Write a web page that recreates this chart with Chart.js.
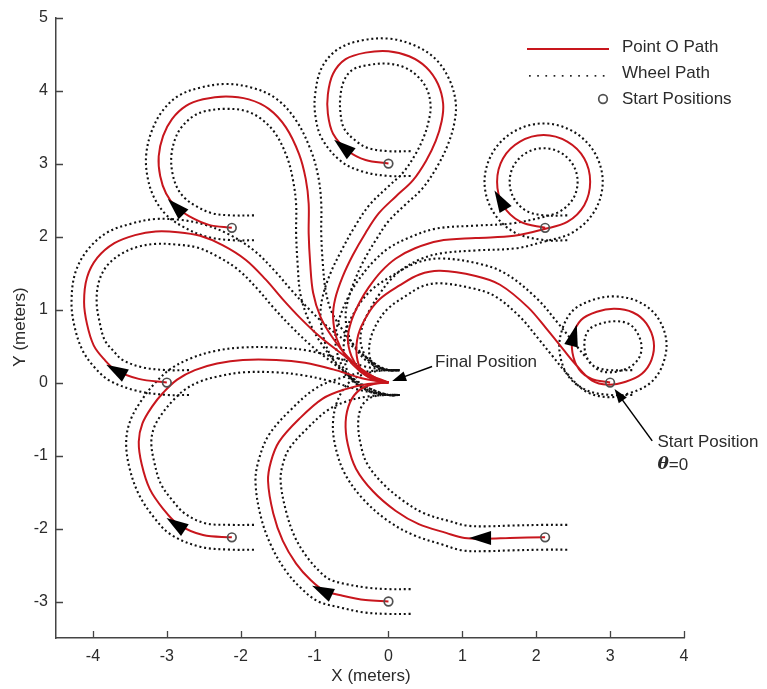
<!DOCTYPE html>
<html lang="en">
<head>
<meta charset="UTF-8">
<title>Robot paths</title>
<script src="https://cdn.jsdelivr.net/npm/chart.js"></script>
<style>
  body { margin: 0; background: #fff; }
  #wrap { width: 767px; height: 689px; }
</style>
</head>
<body>
<div id="wrap"><canvas id="paths" width="767" height="689"></canvas></div>
<script>
// start positions on the 3 m circle (m)
const startX = [3.00, 2.12, 0.00, -2.12, -3.00, -2.12, 0.00, 2.12];
const startY = [0.00, 2.12, 3.00, 2.12, 0.00, -2.12, -3.00, -2.12];

const xTicks = [-4, -3, -2, -1, 0, 1, 2, 3, 4];
const yTicks = [-3, -2, -1, 0, 1, 2, 3, 4, 5];

// point O path from each start, [x, y] in metres
const pathA = [[3.00,0.00],[2.75,0.05],[2.58,0.18],[2.49,0.41],[2.50,0.65],[2.61,0.86],[2.82,0.97],[3.06,1.01],[3.31,0.96],[3.49,0.81],[3.59,0.56],[3.56,0.31],[3.43,0.12],[3.21,0.01],[2.97,-0.03],[2.75,0.03],[2.54,0.24],[2.36,0.46],[2.16,0.71],[1.89,1.03],[1.51,1.34],[1.18,1.46],[0.70,1.53],[0.42,1.48],[0.15,1.33],[-0.12,1.14],[-0.29,0.92],[-0.41,0.65],[-0.43,0.37],[-0.35,0.14],[-0.18,0.03],[0.00,0.00]];
const pathB = [[2.12,2.12],[1.79,2.20],[1.55,2.43],[1.47,2.75],[1.55,3.07],[1.78,3.30],[2.10,3.39],[2.42,3.30],[2.65,3.07],[2.73,2.75],[2.65,2.43],[2.42,2.20],[2.10,2.10],[1.70,2.01],[1.18,1.98],[0.68,1.94],[0.36,1.84],[0.10,1.70],[-0.10,1.52],[-0.27,1.30],[-0.39,1.10],[-0.50,0.85],[-0.55,0.60],[-0.50,0.36],[-0.38,0.17],[-0.20,0.05],[0.00,0.00]];
const pathC = [[0.00,3.00],[-0.31,3.05],[-0.54,3.17],[-0.75,3.41],[-0.82,3.68],[-0.82,3.95],[-0.75,4.23],[-0.58,4.43],[-0.31,4.52],[0.00,4.54],[0.28,4.47],[0.51,4.32],[0.67,4.09],[0.74,3.82],[0.72,3.58],[0.64,3.31],[0.51,3.04],[0.33,2.77],[0.10,2.55],[-0.13,2.32],[-0.31,2.05],[-0.48,1.75],[-0.62,1.45],[-0.72,1.15],[-0.75,0.90],[-0.70,0.60],[-0.57,0.35],[-0.38,0.15],[-0.18,0.04],[0.00,0.00]];
const pathD = [[-2.12,2.12],[-2.43,2.16],[-2.70,2.28],[-2.88,2.41],[-3.01,2.59],[-3.09,2.83],[-3.11,3.10],[-3.05,3.38],[-2.93,3.61],[-2.74,3.79],[-2.51,3.88],[-2.20,3.92],[-1.89,3.88],[-1.62,3.75],[-1.39,3.50],[-1.21,3.13],[-1.12,2.79],[-1.08,2.45],[-1.08,2.04],[-1.06,1.64],[-1.02,1.23],[-0.92,0.90],[-0.76,0.62],[-0.55,0.35],[-0.30,0.13],[0.00,0.00]];
const pathE = [[-3.00,0.00],[-3.38,0.05],[-3.69,0.17],[-3.85,0.32],[-3.99,0.51],[-4.08,0.80],[-4.12,1.10],[-4.08,1.44],[-3.94,1.71],[-3.71,1.91],[-3.43,2.02],[-3.15,2.07],[-2.85,2.06],[-2.55,2.01],[-2.24,1.88],[-1.93,1.68],[-1.66,1.41],[-1.43,1.14],[-1.20,0.89],[-0.93,0.63],[-0.63,0.39],[-0.36,0.18],[-0.15,0.05],[0.00,0.00]];
const pathF = [[-2.12,-2.12],[-2.51,-2.09],[-2.85,-1.94],[-3.05,-1.73],[-3.23,-1.46],[-3.34,-1.12],[-3.38,-0.81],[-3.33,-0.56],[-3.20,-0.33],[-3.05,-0.14],[-2.86,0.04],[-2.62,0.17],[-2.32,0.26],[-1.97,0.31],[-1.52,0.31],[-1.13,0.27],[-0.75,0.18],[-0.36,0.06],[0.00,0.00]];
const pathG = [[0.00,-3.00],[-0.31,-2.98],[-0.62,-2.92],[-0.87,-2.85],[-1.05,-2.71],[-1.25,-2.48],[-1.43,-2.17],[-1.56,-1.79],[-1.63,-1.35],[-1.59,-1.08],[-1.48,-0.81],[-1.21,-0.50],[-0.89,-0.22],[-0.58,-0.09],[-0.28,-0.02],[0.00,0.00]];
const pathH = [[2.12,-2.12],[1.64,-2.13],[1.32,-2.14],[1.03,-2.13],[0.78,-2.06],[0.41,-1.94],[0.10,-1.76],[-0.21,-1.49],[-0.44,-1.18],[-0.55,-0.85],[-0.58,-0.54],[-0.52,-0.27],[-0.39,-0.10],[-0.20,-0.02],[0.00,0.00]];

// wheel tracks: 1 = left wheel, 2 = right wheel
const wheelA1 = [[3.30,-0.17],[3.00,-0.17],[2.69,-0.11],[2.44,0.08],[2.32,0.39],[2.34,0.69],[2.49,0.98],[2.76,1.13],[3.06,1.18],[3.38,1.11],[3.63,0.91],[3.76,0.58],[3.71,0.24],[3.54,-0.01],[3.25,-0.15],[2.97,-0.20],[2.67,-0.12],[2.41,0.13],[2.23,0.35],[2.03,0.60],[1.77,0.91],[1.43,1.19],[1.14,1.29],[0.70,1.36],[0.46,1.32],[0.24,1.19],[0.00,1.02],[-0.14,0.84],[-0.24,0.61],[-0.26,0.39],[-0.20,0.23],[-0.12,0.19],[0.00,0.17],[0.15,0.17]];
const wheelA2 = [[3.30,0.17],[3.00,0.17],[2.81,0.21],[2.72,0.28],[2.66,0.43],[2.66,0.61],[2.73,0.74],[2.88,0.81],[3.06,0.84],[3.24,0.81],[3.35,0.71],[3.42,0.54],[3.41,0.38],[3.32,0.25],[3.17,0.17],[2.97,0.14],[2.83,0.18],[2.67,0.35],[2.49,0.57],[2.29,0.82],[2.01,1.15],[1.59,1.49],[1.22,1.63],[0.70,1.70],[0.38,1.64],[0.06,1.47],[-0.24,1.26],[-0.44,1.00],[-0.58,0.69],[-0.60,0.35],[-0.50,0.05],[-0.24,-0.13],[0.00,-0.17],[0.15,-0.17]];
const wheelB1 = [[2.42,1.95],[2.12,1.95],[1.70,2.06],[1.41,2.35],[1.30,2.75],[1.41,3.15],[1.70,3.44],[2.10,3.55],[2.50,3.44],[2.79,3.15],[2.90,2.75],[2.79,2.35],[2.50,2.06],[2.10,1.93],[1.73,1.84],[1.18,1.81],[0.71,1.77],[0.43,1.69],[0.20,1.56],[0.02,1.40],[-0.13,1.20],[-0.24,1.02],[-0.34,0.81],[-0.38,0.60],[-0.34,0.42],[-0.26,0.29],[-0.14,0.21],[0.00,0.17],[0.15,0.17]];
const wheelB2 = [[2.42,2.29],[2.12,2.29],[1.87,2.35],[1.70,2.52],[1.64,2.75],[1.70,2.98],[1.87,3.15],[2.10,3.21],[2.33,3.15],[2.50,2.98],[2.56,2.75],[2.50,2.52],[2.33,2.35],[2.10,2.27],[1.67,2.18],[1.18,2.15],[0.65,2.11],[0.29,1.99],[0.00,1.84],[-0.22,1.64],[-0.41,1.40],[-0.54,1.18],[-0.66,0.89],[-0.72,0.60],[-0.66,0.30],[-0.50,0.05],[-0.26,-0.11],[0.00,-0.17],[0.15,-0.17]];
const wheelC1 = [[0.30,2.83],[0.00,2.83],[-0.35,2.89],[-0.64,3.03],[-0.90,3.34],[-0.99,3.66],[-0.99,3.97],[-0.90,4.32],[-0.68,4.57],[-0.35,4.69],[0.02,4.71],[0.35,4.62],[0.63,4.44],[0.82,4.16],[0.91,3.84],[0.89,3.55],[0.80,3.25],[0.66,2.96],[0.46,2.66],[0.22,2.43],[0.00,2.21],[-0.16,1.97],[-0.33,1.68],[-0.46,1.39],[-0.55,1.12],[-0.58,0.90],[-0.54,0.65],[-0.44,0.46],[-0.30,0.30],[-0.14,0.21],[0.00,0.17],[0.15,0.17]];
const wheelC2 = [[0.30,3.17],[0.00,3.17],[-0.27,3.21],[-0.44,3.31],[-0.60,3.48],[-0.65,3.70],[-0.65,3.93],[-0.60,4.14],[-0.48,4.29],[-0.27,4.35],[-0.02,4.37],[0.21,4.32],[0.39,4.20],[0.52,4.02],[0.57,3.80],[0.55,3.61],[0.48,3.37],[0.36,3.12],[0.20,2.88],[-0.02,2.67],[-0.26,2.43],[-0.46,2.13],[-0.63,1.82],[-0.78,1.51],[-0.89,1.18],[-0.92,0.90],[-0.86,0.55],[-0.70,0.24],[-0.46,0.00],[-0.22,-0.13],[0.00,-0.17],[0.15,-0.17]];
const wheelD1 = [[-1.82,1.95],[-2.12,1.95],[-2.47,2.00],[-2.79,2.14],[-3.01,2.30],[-3.17,2.53],[-3.26,2.81],[-3.28,3.11],[-3.21,3.43],[-3.06,3.72],[-2.84,3.93],[-2.55,4.04],[-2.20,4.09],[-1.85,4.04],[-1.52,3.89],[-1.25,3.59],[-1.05,3.18],[-0.95,2.82],[-0.91,2.46],[-0.91,2.04],[-0.89,1.65],[-0.85,1.26],[-0.77,0.97],[-0.62,0.72],[-0.43,0.47],[-0.22,0.28],[0.00,0.17],[0.15,0.17]];
const wheelD2 = [[-1.82,2.29],[-2.12,2.29],[-2.39,2.32],[-2.61,2.42],[-2.75,2.52],[-2.85,2.65],[-2.92,2.85],[-2.94,3.09],[-2.89,3.33],[-2.80,3.50],[-2.64,3.65],[-2.47,3.72],[-2.20,3.75],[-1.93,3.72],[-1.72,3.61],[-1.53,3.41],[-1.37,3.08],[-1.29,2.76],[-1.25,2.44],[-1.25,2.04],[-1.23,1.63],[-1.19,1.20],[-1.07,0.83],[-0.90,0.52],[-0.67,0.23],[-0.38,-0.02],[0.00,-0.17],[0.15,-0.17]];
const wheelE1 = [[-2.70,-0.17],[-3.00,-0.17],[-3.42,-0.11],[-3.78,0.03],[-3.98,0.21],[-4.14,0.44],[-4.25,0.77],[-4.29,1.10],[-4.24,1.50],[-4.07,1.82],[-3.80,2.06],[-3.47,2.18],[-3.16,2.24],[-2.83,2.23],[-2.51,2.17],[-2.16,2.03],[-1.82,1.81],[-1.54,1.53],[-1.30,1.25],[-1.08,1.01],[-0.82,0.76],[-0.53,0.53],[-0.28,0.33],[-0.11,0.21],[0.00,0.17],[0.15,0.17]];
const wheelE2 = [[-2.70,0.17],[-3.00,0.17],[-3.34,0.21],[-3.60,0.31],[-3.72,0.43],[-3.84,0.58],[-3.91,0.83],[-3.95,1.10],[-3.92,1.38],[-3.81,1.60],[-3.62,1.76],[-3.39,1.86],[-3.14,1.90],[-2.87,1.89],[-2.59,1.85],[-2.32,1.73],[-2.04,1.55],[-1.78,1.29],[-1.56,1.03],[-1.32,0.77],[-1.04,0.50],[-0.73,0.25],[-0.44,0.03],[-0.19,-0.11],[0.00,-0.17],[0.15,-0.17]];
const wheelF1 = [[-1.82,-2.29],[-2.12,-2.29],[-2.55,-2.25],[-2.95,-2.08],[-3.18,-1.84],[-3.38,-1.53],[-3.51,-1.15],[-3.55,-0.80],[-3.49,-0.51],[-3.34,-0.24],[-3.18,-0.03],[-2.96,0.18],[-2.68,0.33],[-2.36,0.43],[-1.98,0.48],[-1.51,0.48],[-1.10,0.44],[-0.71,0.34],[-0.32,0.22],[0.00,0.17],[0.15,0.17]];
const wheelF2 = [[-1.82,-1.95],[-2.12,-1.95],[-2.47,-1.93],[-2.75,-1.80],[-2.92,-1.62],[-3.08,-1.39],[-3.17,-1.09],[-3.21,-0.82],[-3.17,-0.61],[-3.06,-0.42],[-2.92,-0.25],[-2.76,-0.10],[-2.56,0.01],[-2.28,0.09],[-1.96,0.14],[-1.53,0.14],[-1.16,0.10],[-0.79,0.02],[-0.40,-0.10],[0.00,-0.17],[0.15,-0.17]];
const wheelG1 = [[0.30,-3.17],[0.00,-3.17],[-0.33,-3.15],[-0.66,-3.08],[-0.95,-3.00],[-1.17,-2.83],[-1.39,-2.58],[-1.59,-2.23],[-1.73,-1.83],[-1.80,-1.35],[-1.75,-1.04],[-1.62,-0.72],[-1.33,-0.38],[-0.97,-0.07],[-0.62,0.07],[-0.29,0.15],[0.00,0.17],[0.15,0.17]];
const wheelG2 = [[0.30,-2.83],[0.00,-2.83],[-0.29,-2.81],[-0.58,-2.76],[-0.79,-2.70],[-0.93,-2.59],[-1.11,-2.38],[-1.27,-2.11],[-1.39,-1.75],[-1.46,-1.35],[-1.43,-1.12],[-1.34,-0.90],[-1.09,-0.62],[-0.81,-0.37],[-0.54,-0.25],[-0.27,-0.19],[0.00,-0.17],[0.15,-0.17]];
const wheelH1 = [[2.42,-2.29],[2.12,-2.29],[1.64,-2.30],[1.32,-2.31],[1.00,-2.30],[0.73,-2.22],[0.34,-2.09],[0.00,-1.90],[-0.34,-1.60],[-0.59,-1.25],[-0.72,-0.87],[-0.75,-0.53],[-0.67,-0.20],[-0.50,0.03],[-0.24,0.14],[0.00,0.17],[0.15,0.17]];
const wheelH2 = [[2.42,-1.95],[2.12,-1.95],[1.64,-1.96],[1.32,-1.97],[1.06,-1.96],[0.83,-1.90],[0.48,-1.79],[0.20,-1.62],[-0.08,-1.38],[-0.29,-1.11],[-0.38,-0.83],[-0.41,-0.55],[-0.37,-0.34],[-0.28,-0.23],[-0.16,-0.18],[0.00,-0.17],[0.15,-0.17]];

// where each path gets its direction arrowhead
const arrowAt = [[2.51,0.65],[1.51,2.50],[-0.62,3.23],[-2.88,2.41],[-3.69,0.17],[-2.88,-1.94],[-0.90,-2.85],[1.24,-2.13]];

const paths = [pathA, pathB, pathC, pathD, pathE, pathF, pathG, pathH];
const wheels = [wheelA1, wheelA2, wheelB1, wheelB2, wheelC1, wheelC2, wheelD1, wheelD2,
                wheelE1, wheelE2, wheelF1, wheelF2, wheelG1, wheelG2, wheelH1, wheelH2];

const RED = '#c8161d';
const INK = '#2b2b2b';
const FONT = '"Liberation Sans Narrow", "Liberation Sans", Arial, sans-serif';

const toXY = pts => pts.map(([x, y]) => ({ x, y }));

const datasets = [{
    label: 'Start Positions',
    data: startX.map((x, i) => ({ x, y: startY[i] })),
    showLine: false,
    pointRadius: 4.3,
    pointBorderColor: '#505050',
    pointBackgroundColor: 'rgba(0,0,0,0)',
    pointBorderWidth: 1.7,
    order: 0
}];
paths.forEach(p => datasets.push({
    data: toXY(p), showLine: true, borderColor: RED, borderWidth: 2,
    pointRadius: 0, tension: 0.35, order: 1
}));
wheels.forEach(w => datasets.push({
    data: toXY(w), showLine: true, borderColor: '#111', borderWidth: 2.1,
    borderDash: [2, 2.8], pointRadius: 0, tension: 0.35, order: 2
}));

function head(ctx, tx, ty, dx, dy, len, hw) {
    const bx = tx - dx * len, by = ty - dy * len;
    ctx.beginPath();
    ctx.moveTo(tx, ty);
    ctx.lineTo(bx - dy * hw, by + dx * hw);
    ctx.lineTo(bx + dy * hw, by - dx * hw);
    ctx.closePath();
    ctx.fill();
}

function pointer(ctx, x0, y0, x1, y1) {
    let dx = x1 - x0, dy = y1 - y0;
    const l = Math.hypot(dx, dy);
    dx /= l; dy /= l;
    ctx.beginPath();
    ctx.moveTo(x0, y0);
    ctx.lineTo(x1 - dx * 8, y1 - dy * 8);
    ctx.stroke();
    head(ctx, x1, y1, dx, dy, 14, 5);
}

const overlay = {
    id: 'overlay',
    afterDatasetsDraw(chart) {
        const { ctx, scales: { x, y } } = chart;
        ctx.save();
        ctx.fillStyle = '#000';
        paths.forEach((p, k) => {
            const px = p.map(([a, b]) => [x.getPixelForValue(a), y.getPixelForValue(b)]);
            const cx = x.getPixelForValue(arrowAt[k][0]), cy = y.getPixelForValue(arrowAt[k][1]);
            let best = 0, bd = Infinity;
            px.forEach(([u, v], i) => {
                const d = (u - cx) ** 2 + (v - cy) ** 2;
                if (d < bd) { bd = d; best = i; }
            });
            const a = px[Math.max(best - 1, 0)], b = px[Math.min(best + 1, px.length - 1)];
            let dx = b[0] - a[0], dy = b[1] - a[1];
            const l = Math.hypot(dx, dy);
            dx /= l; dy /= l;
            head(ctx, cx + dx * 11, cy + dy * 11, dx, dy, 22, 7);
        });
        ctx.restore();
    },
    afterDraw(chart) {
        const { ctx, chartArea: area, scales: { x, y } } = chart;
        ctx.save();

        // inward tick marks
        ctx.strokeStyle = '#444';
        ctx.lineWidth = 1.3;
        ctx.beginPath();
        xTicks.forEach(v => {
            const p = Math.round(x.getPixelForValue(v)) + 0.5;
            ctx.moveTo(p, area.bottom); ctx.lineTo(p, area.bottom - 7);
        });
        yTicks.forEach(v => {
            const p = Math.round(y.getPixelForValue(v)) + 0.5;
            ctx.moveTo(area.left, p); ctx.lineTo(area.left + 7, p);
        });
        ctx.stroke();

        // axis titles
        ctx.fillStyle = INK;
        ctx.font = '17px ' + FONT;
        ctx.textAlign = 'center';
        ctx.textBaseline = 'middle';
        ctx.fillText('X (meters)', 371, 676);
        ctx.save();
        ctx.translate(20, 327);
        ctx.rotate(-Math.PI / 2);
        ctx.fillText('Y (meters)', 0, 0);
        ctx.restore();

        // legend
        ctx.textAlign = 'left';
        ctx.strokeStyle = RED;
        ctx.lineWidth = 2;
        ctx.beginPath(); ctx.moveTo(527, 49); ctx.lineTo(609, 49); ctx.stroke();
        ctx.fillStyle = '#222';
        for (let u = 529; u <= 609; u += 8.2) ctx.fillRect(u, 75, 1.7, 1.7);
        ctx.strokeStyle = '#505050';
        ctx.lineWidth = 1.7;
        ctx.beginPath(); ctx.arc(603, 99, 4.3, 0, Math.PI * 2); ctx.stroke();
        ctx.fillStyle = INK;
        ctx.fillText('Point O Path', 622, 47);
        ctx.fillText('Wheel Path', 622, 73);
        ctx.fillText('Start Positions', 622, 99);

        // annotations
        ctx.strokeStyle = '#000';
        ctx.fillStyle = '#000';
        ctx.lineWidth = 1.5;
        pointer(ctx, x.getPixelForValue(0.59), y.getPixelForValue(0.22),
                x.getPixelForValue(0.05), y.getPixelForValue(0.02));
        pointer(ctx, x.getPixelForValue(3.57), y.getPixelForValue(-0.80),
                x.getPixelForValue(3.06), y.getPixelForValue(-0.09));
        ctx.fillStyle = INK;
        ctx.fillText('Final Position', x.getPixelForValue(0.63), y.getPixelForValue(0.28));
        ctx.fillText('Start Position', x.getPixelForValue(3.64), y.getPixelForValue(-0.82));
        const tx = x.getPixelForValue(3.64), ty = y.getPixelForValue(-1.13);
        ctx.font = 'italic bold 17px "DejaVu Serif", serif';
        ctx.fillText('\u03b8', tx, ty);
        const w = ctx.measureText('\u03b8').width;
        ctx.font = '17px ' + FONT;
        ctx.fillText('=0', tx + w, ty);

        ctx.restore();
    }
};

new Chart(document.getElementById('paths'), {
    type: 'scatter',
    data: { datasets },
    options: {
        responsive: false,
        animation: false,
        events: [],
        devicePixelRatio: 1,
        layout: { padding: { top: 13, right: 83, left: 0, bottom: 0 } },
        plugins: { legend: { display: false }, tooltip: { enabled: false } },
        scales: {
            x: {
                type: 'linear', min: -4.5, max: 4,
                afterBuildTicks: s => { s.ticks = xTicks.map(v => ({ value: v })); },
                afterFit: s => { s.height = 51; },
                grid: { display: false, drawTicks: false },
                border: { display: true, color: '#444', width: 1.5 },
                ticks: { color: INK, padding: 9, font: { family: FONT, size: 16 } }
            },
            y: {
                type: 'linear', min: -3.5, max: 5,
                afterBuildTicks: s => { s.ticks = yTicks.map(v => ({ value: v })); },
                afterFit: s => { s.width = 56; },
                grid: { display: false, drawTicks: false },
                border: { display: true, color: '#444', width: 1.5 },
                ticks: { color: INK, padding: 8, font: { family: FONT, size: 16 } }
            }
        }
    },
    plugins: [overlay]
});
</script>
</body>
</html>
